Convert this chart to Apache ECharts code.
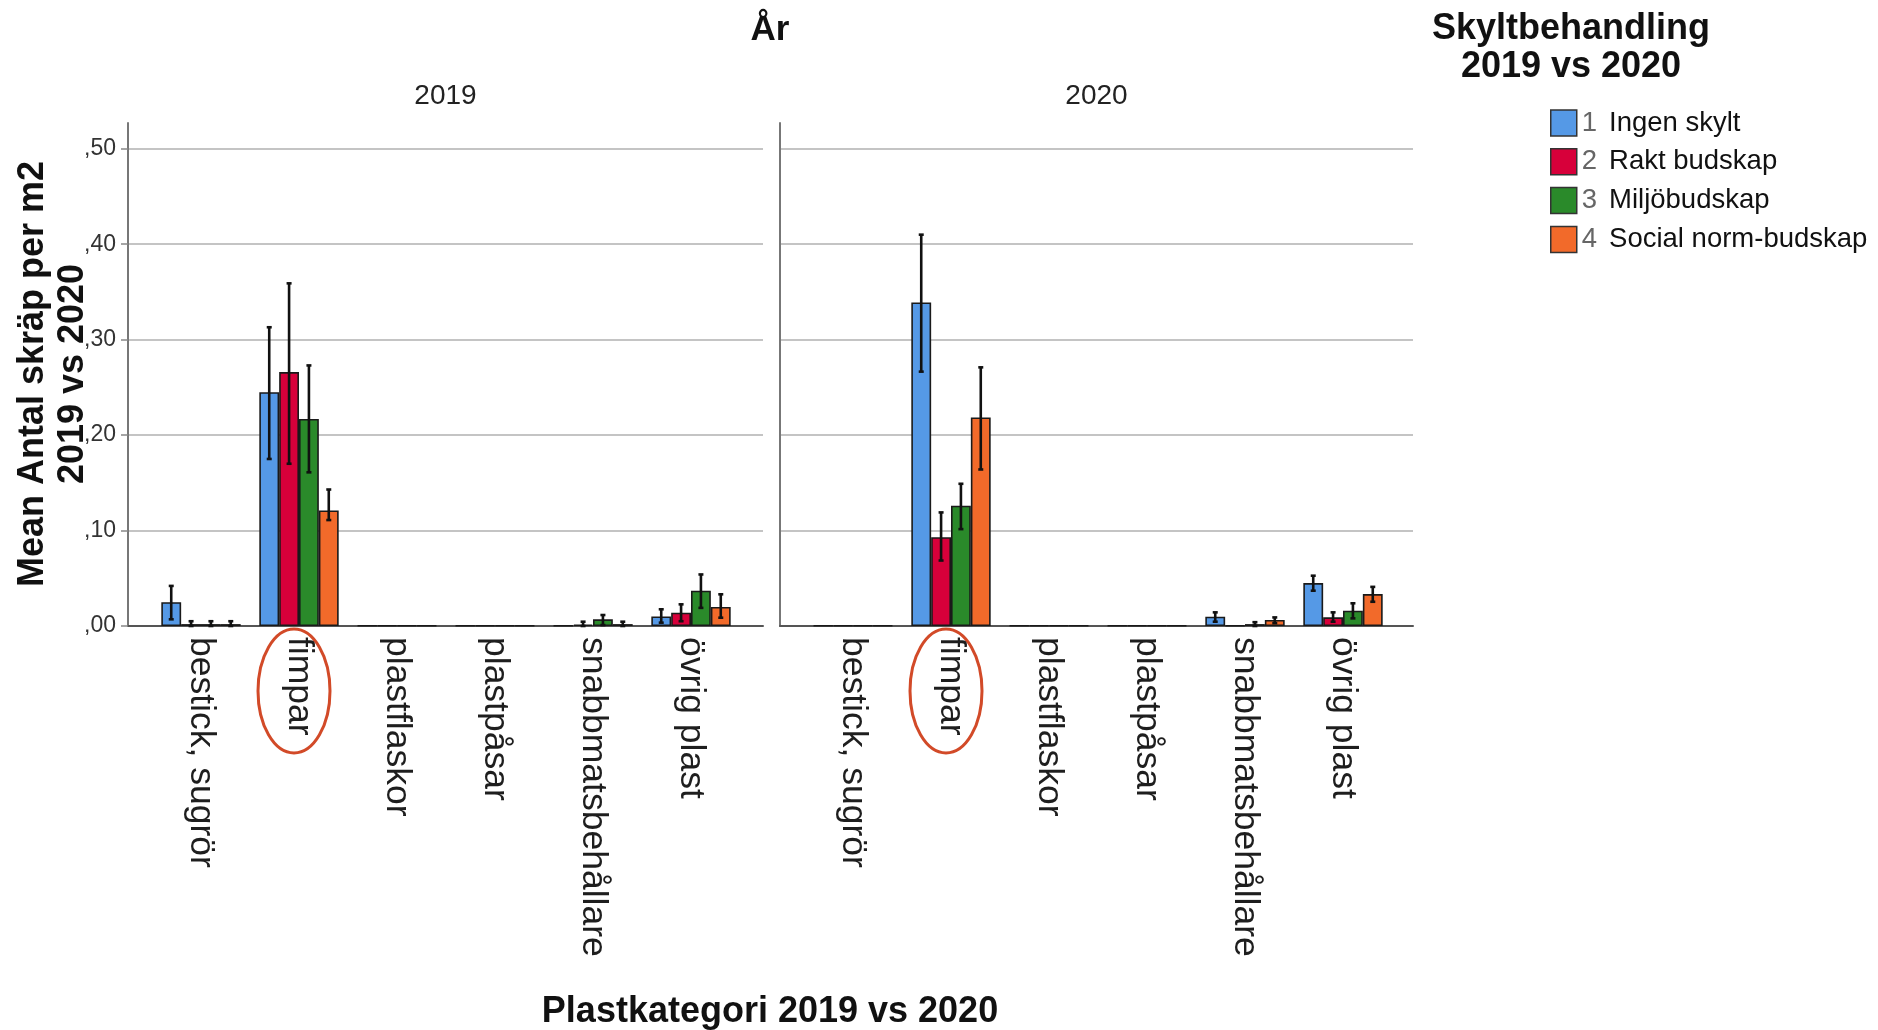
<!DOCTYPE html>
<html><head><meta charset="utf-8">
<script src="https://cdn.jsdelivr.net/npm/echarts@6/dist/echarts.min.js"></script>
<style>html,body{margin:0;padding:0;background:#fff}#c{width:1878px;height:1030px}</style>
</head><body><div id="c"></div>
<script>
// ---- data ----
const categories = ['bestick, sugrör', 'fimpar', 'plastflaskor', 'plastpåsar', 'snabbmatsbehållare', 'övrig plast'];
const treatments = ['Ingen skylt', 'Rakt budskap', 'Miljöbudskap', 'Social norm-budskap'];
const codes = ['1', '2', '3', '4'];
const years = ['2019', '2020'];
const yTicks = [0, 0.1, 0.2, 0.3, 0.4, 0.5];

// means per treatment (rows) x category (cols)
const means2019 = [
  [0.025, 0.245, 0.0005, 0.0005, 0.0005, 0.010],
  [0.002, 0.266, 0.0005, 0.0005, 0.0015, 0.014],
  [0.002, 0.217, 0.0005, 0.0005, 0.007, 0.037],
  [0.002, 0.121, 0.0005, 0.0005, 0.002, 0.020]
];
const low2019 = [
  [0.007, 0.175, null, null, null, 0.0035],
  [0.000, 0.170, null, null, 0.000, 0.005],
  [0.000, 0.161, null, null, 0.001, 0.019],
  [0.000, 0.111, null, null, 0.000, 0.0087]
];
const high2019 = [
  [0.042, 0.313, null, null, null, 0.0175],
  [0.005, 0.359, null, null, 0.0045, 0.0227],
  [0.005, 0.273, null, null, 0.0115, 0.054],
  [0.005, 0.143, null, null, 0.0045, 0.0332]
];
const means2020 = [
  [0.0005, 0.339, 0.0005, 0.0005, 0.0097, 0.045],
  [0.0005, 0.093, 0.0005, 0.0005, 0.0005, 0.0091],
  [0.0005, 0.126, 0.0005, 0.0005, 0.002, 0.016],
  [0.0005, 0.2185, 0.0005, 0.0005, 0.0063, 0.0335]
];
const low2020 = [
  [null, 0.2665, null, null, 0.0045, 0.037],
  [null, 0.0686, null, null, null, 0.0045],
  [null, 0.1015, null, null, 0.000, 0.008],
  [null, 0.164, null, null, 0.003, 0.0254]
];
const high2020 = [
  [null, 0.410, null, null, 0.0143, 0.0527],
  [null, 0.119, null, null, null, 0.0143],
  [null, 0.149, null, null, 0.004, 0.0238],
  [null, 0.271, null, null, 0.009, 0.041]
];
const colors = ['#5599e6', '#d7003a', '#2a8a2a', '#f26a2a'];

// ---- build ----
const FONT = '"Liberation Sans", Arial, sans-serif';
const CAT_GAP = 0.19;
const YMAX = 0.527;
const meansByYear = [means2019, means2020];
const lowByYear = [low2019, low2020];
const highByYear = [high2019, high2020];

const chart = echarts.init(document.getElementById('c'), null, {renderer: 'canvas'});

const bgGrids = [
  {left: 128, top: 123, width: 635, height: 503},
  {left: 780, top: 123, width: 633, height: 503}
];
const barGrids = [
  {left: 152, top: 123, width: 588, height: 503},
  {left: 804, top: 123, width: 588, height: 503}
];

const grid = bgGrids.concat(barGrids);
const xAxis = [];
const yAxis = [];
years.forEach((yr, i) => {
  xAxis.push({type: 'value', gridIndex: i, min: 0, max: 1, axisLine: {show: true, onZero: false, lineStyle: {color: '#555', width: 2}},
    axisTick: {show: false}, axisLabel: {show: false}, splitLine: {show: false}});
  yAxis.push({type: 'value', gridIndex: i, min: 0, max: YMAX, interval: 0.1,
    axisLine: {show: true, lineStyle: {color: '#777', width: 2}},
    axisTick: {show: i === 0, length: 7, lineStyle: {color: '#888', width: 1.5}},
    axisLabel: {show: i === 0, showMaxLabel: false, fontSize: 23, color: '#333', fontFamily: '"Liberation Sans Narrow", ' + FONT,
      margin: 12, padding: [12, 0, 0, 0],
      formatter: v => (Math.abs(v * 10 - Math.round(v * 10)) > 1e-6) ? '' : v.toFixed(2).replace('0.', ',')},
    splitLine: {show: true, showMaxLine: false, showMinLine: false, lineStyle: {color: '#c4c4c4', width: 2.2}}});
});
years.forEach((yr, i) => {
  xAxis.push({type: 'category', gridIndex: 2 + i, data: categories,
    axisLine: {show: false}, axisTick: {show: false},
    axisLabel: {rotate: -90, fontSize: 35.5, color: '#1e1e1e', fontFamily: FONT, margin: 11, interval: 0}});
  yAxis.push({type: 'value', gridIndex: 2 + i, min: 0, max: YMAX, interval: 0.1, show: false, splitLine: {show: false}});
});

const series = [];
years.forEach((yr, y) => {
  treatments.forEach((t, k) => {
    series.push({type: 'bar', name: t, xAxisIndex: 2 + y, yAxisIndex: 2 + y,
      data: meansByYear[y][k], barGap: '0%', barCategoryGap: (CAT_GAP * 100) + '%',
      itemStyle: {color: colors[k], borderColor: '#1a1a1a', borderWidth: 1.6}, z: 3});
  });
});
years.forEach((yr, y) => {
  treatments.forEach((t, k) => {
    const d = [];
    categories.forEach((c, ci) => {
      const lo = lowByYear[y][k][ci], hi = highByYear[y][k][ci];
      if (lo !== null && hi !== null) d.push([ci, lo, hi]);
    });
    series.push({type: 'custom', name: t, xAxisIndex: 2 + y, yAxisIndex: 2 + y, z: 5, silent: true,
      data: d,
      renderItem: (params, api) => {
        const ci = api.value(0), lo = api.value(1), hi = api.value(2);
        const band = api.size([1, 0])[0];
        const groupW = band * (1 - CAT_GAP);
        const bw = groupW / 4;
        const cx = api.coord([ci, 0])[0] - groupW / 2 + bw * (k + 0.5);
        const yl = api.coord([ci, lo])[1], yh = api.coord([ci, hi])[1];
        const cap = 2.5;
        const st = {stroke: '#111', lineWidth: 2.6};
        return {type: 'group', children: [
          {type: 'line', shape: {x1: cx, y1: yl, x2: cx, y2: yh}, style: st},
          {type: 'line', shape: {x1: cx - cap, y1: yh, x2: cx + cap, y2: yh}, style: st},
          {type: 'line', shape: {x1: cx - cap, y1: yl, x2: cx + cap, y2: yl}, style: st}
        ]};
      }});
  });
});

chart.setOption({
  animation: false,
  backgroundColor: '#fff',
  grid, xAxis, yAxis, series,
  legend: {orient: 'vertical', left: 1545, top: 104, itemWidth: 26, itemHeight: 26, itemGap: 10.8, icon: 'rect',
    data: treatments,
    formatter: name => '{n|' + codes[treatments.indexOf(name)] + '}' + name,
    itemStyle: {borderColor: '#333', borderWidth: 1.5},
    textStyle: {fontSize: 27.5, color: '#111', fontFamily: FONT,
      rich: {n: {fontSize: 27.5, color: '#666', fontFamily: FONT, padding: [0, 12, 0, 0]}}}}
});

// ---- texts & annotations ----
const graphic = [
  {type: 'text', x: 770, y: 30, style: {text: 'År', font: 'bold 35px ' + FONT, fill: '#111', textAlign: 'center', textVerticalAlign: 'middle'}},
  {type: 'text', x: 1571, y: 48, style: {text: 'Skyltbehandling\n2019 vs 2020', font: 'bold 36px ' + FONT, lineHeight: 38, fill: '#111', textAlign: 'center', textVerticalAlign: 'middle'}},
  {type: 'text', x: 53, y: 374, rotation: Math.PI / 2, style: {text: 'Mean Antal skräp per m2\n2019 vs 2020', font: 'bold 36px ' + FONT, lineHeight: 40, fill: '#111', textAlign: 'center', textVerticalAlign: 'middle'}},
  {type: 'text', x: 770, y: 1012, style: {text: 'Plastkategori 2019 vs 2020', font: 'bold 36px ' + FONT, fill: '#111', textAlign: 'center', textVerticalAlign: 'middle'}}
];
years.forEach((yr, i) => {
  const g = bgGrids[i];
  graphic.push({type: 'text', x: g.left + g.width / 2, y: 96, style: {text: yr, font: '28px ' + FONT, fill: '#222', textAlign: 'center', textVerticalAlign: 'middle'}});
  const fx = chart.convertToPixel({xAxisIndex: 2 + i}, 'fimpar');
  graphic.push({type: 'ellipse', shape: {cx: fx - 5, cy: 691, rx: 36, ry: 62}, style: {fill: 'none', stroke: '#d24a28', lineWidth: 3}});
});
chart.setOption({graphic});
</script></body></html>
